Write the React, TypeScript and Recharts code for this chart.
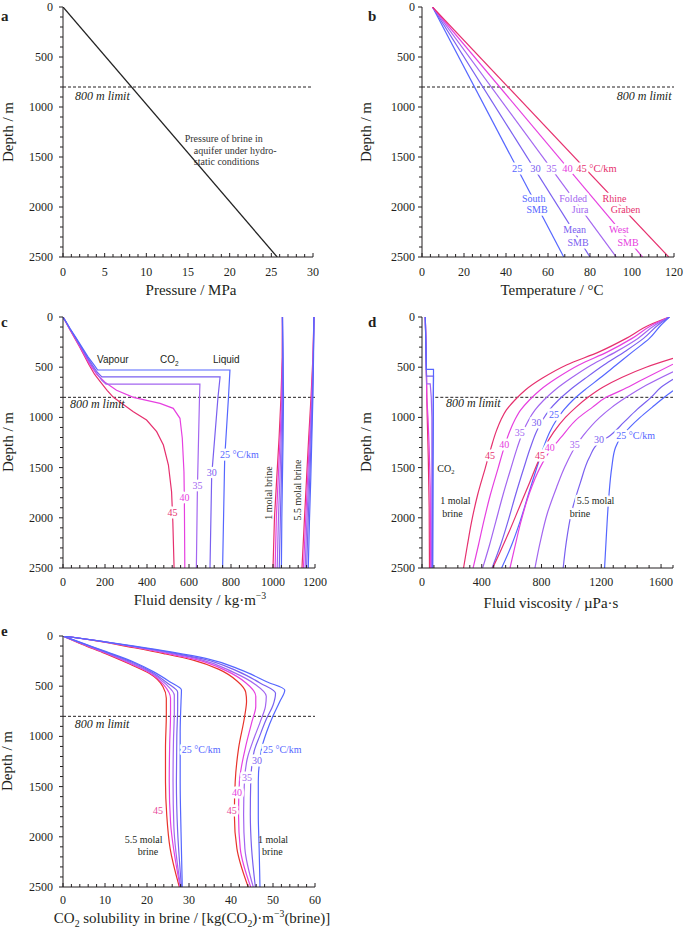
import React from "react";
import { LineChart, Line, XAxis, YAxis, ReferenceLine, ReferenceDot } from "recharts";

const SERIF = "'Liberation Serif', 'Times New Roman', Times, serif";
const SANS = "'Liberation Sans', Arial, Helvetica, sans-serif";
const INK = "#231f20";

// gradient colours, 25 -> 45 °C/km
const GRAD = ["#5566ff", "#7a60f0", "#a366f0", "#e640e0", "#e6306e"];
const RED_E = "#e8332b";

// ---- ticks ----
const DEPTH_MAJOR = [0, 500, 1000, 1500, 2000, 2500];
const range = (a: number, b: number, s: number) => {
  const r: number[] = [];
  for (let v = a; v <= b + 1e-9; v += s) r.push(Math.round(v * 1000) / 1000);
  return r;
};
const DEPTH_MINOR = range(0, 2500, 100);

const PRESS_MAJOR = [0, 5, 10, 15, 20, 25, 30];
const TEMP_MAJOR = [0, 20, 40, 60, 80, 100, 120];
const DENS_MAJOR = [0, 200, 400, 600, 800, 1000, 1200];
const VISC_MAJOR = [0, 400, 800, 1200, 1600];
const SOL_MAJOR = [0, 10, 20, 30, 40, 50, 60];

// ---- a: hydrostatic pressure (MPa, depth m) ----
const pressureBrine = [[0, 0], [25.7, 2500]];

// ---- b: temperature profiles (°C) ----
const surfaceTemp = 5;
const tempAt2500 = [67.5, 80, 92.5, 105, 117.5];

// ---- c: fluid density (kg/m3) ----
const co2Density25 = [[0, 0], [15, 50], [35, 120], [60, 200], [90, 300], [120, 400], [145, 470], [165, 528], [795, 528], [788, 800], [770, 1404], [760, 2500]];
const co2Density30 = [[0, 0], [15, 50], [34, 120], [58, 200], [87, 300], [115, 400], [140, 480], [163, 550], [185, 597], [748, 597], [738, 800], [708, 1580], [700, 2500]];
const co2Density35 = [[0, 0], [14, 50], [33, 120], [57, 200], [85, 300], [112, 400], [135, 480], [160, 560], [185, 630], [205, 668], [652, 668], [650, 800], [640, 1713], [635, 2500]];
const co2Density40 = [[0, 0], [14, 50], [32, 120], [55, 200], [82, 300], [108, 400], [130, 480], [160, 570], [200, 650], [255, 730], [335, 800], [462, 860], [525, 910], [557, 1009], [568, 1208], [576, 1541], [578, 1829], [580, 2500]];
const co2Density45 = [[0, 0], [13, 50], [31, 120], [53, 200], [80, 300], [105, 400], [125, 480], [150, 570], [180, 650], [210, 730], [240, 800], [335, 943], [398, 1026], [446, 1142], [478, 1275], [502, 1474], [517, 1740], [523, 2040], [529, 2500]];
const brine1Density = [
  [[1045, 0], [1048, 400], [1050, 800], [1048, 1200], [1045, 1600], [1042, 2000], [1040, 2500]],
  [[1045, 0], [1047, 400], [1047, 800], [1044, 1200], [1040, 1600], [1035, 2000], [1030, 2500]],
  [[1045, 0], [1046, 400], [1044, 800], [1039, 1200], [1033, 1600], [1026, 2000], [1020, 2500]],
  [[1045, 0], [1045, 400], [1041, 800], [1034, 1200], [1025, 1600], [1016, 2000], [1010, 2500]],
  [[1045, 0], [1044, 400], [1038, 800], [1029, 1200], [1018, 1600], [1007, 2000], [1000, 2500]],
];
const brine55Density = [
  [[1195, 0], [1193, 400], [1190, 800], [1185, 1200], [1180, 1600], [1174, 2000], [1168, 2500]],
  [[1195, 0], [1192, 400], [1188, 800], [1182, 1200], [1175, 1600], [1168, 2000], [1160, 2500]],
  [[1195, 0], [1192, 400], [1186, 800], [1178, 1200], [1170, 1600], [1162, 2000], [1153, 2500]],
  [[1195, 0], [1191, 400], [1184, 800], [1174, 1200], [1165, 1600], [1156, 2000], [1145, 2500]],
  [[1195, 0], [1190, 400], [1181, 800], [1170, 1200], [1160, 1600], [1150, 2000], [1138, 2500]],
];

// ---- d: fluid viscosity (µPa·s) ----
const co2Visc = [
  [[22, 0], [26, 300], [29, 521], [77, 521], [76, 900], [74, 1500], [72, 2500]],
  [[22, 0], [26, 300], [30, 588], [77, 588], [75, 900], [72, 1500], [70, 2500]],
  [[22, 0], [27, 300], [31, 667], [55, 667], [62, 800], [66, 1000], [66, 1500], [64, 2500]],
  [[22, 0], [28, 400], [32, 800], [40, 1000], [48, 1300], [55, 1700], [58, 2500]],
  [[22, 0], [28, 400], [32, 800], [35, 1000], [42, 1400], [48, 1900], [50, 2500]],
];
const viscDepths = [0, 80, 213, 345, 478, 611, 727, 827, 926, 1026, 1142, 1308, 1507, 1773, 2038, 2271, 2500];
const brine1Visc = [
  [1656, 1600, 1522, 1411, 1300, 1189, 1089, 1011, 949, 900, 856, 811, 767, 711, 656, 600, 533],
  [1656, 1580, 1483, 1356, 1217, 1093, 990, 914, 853, 807, 766, 724, 681, 626, 575, 526, 469],
  [1656, 1561, 1445, 1300, 1134, 996, 890, 816, 757, 714, 676, 636, 595, 542, 494, 452, 406],
  [1656, 1541, 1406, 1245, 1050, 900, 791, 719, 661, 621, 586, 548, 509, 457, 413, 378, 342],
  [1656, 1522, 1367, 1189, 967, 804, 692, 622, 565, 528, 496, 461, 423, 372, 332, 304, 278],
];
const brine55Visc = [
  [[1680, 735], [1622, 800], [1540, 900], [1460, 1000], [1390, 1100], [1330, 1200], [1295, 1300], [1270, 1500], [1250, 1800], [1235, 2150], [1222, 2500]],
  [[1680, 620], [1600, 700], [1533, 800], [1440, 920], [1350, 1050], [1260, 1180], [1184, 1252], [1120, 1400], [1060, 1650], [1000, 1950], [965, 2250], [945, 2500]],
  [[1680, 545], [1500, 680], [1367, 800], [1270, 900], [1190, 1000], [1080, 1180], [1022, 1302], [960, 1480], [900, 1700], [840, 1950], [790, 2250], [756, 2500]],
  [[1680, 470], [1480, 620], [1350, 720], [1233, 800], [1140, 900], [1050, 1000], [930, 1200], [855, 1335], [790, 1500], [720, 1750], [660, 2050], [620, 2300], [589, 2500]],
  [[1680, 412], [1500, 500], [1340, 600], [1210, 700], [1111, 800], [1030, 900], [960, 1000], [880, 1150], [820, 1300], [775, 1450], [720, 1650], [650, 1900], [580, 2150], [520, 2350], [473, 2500]],
];

// ---- e: CO2 solubility (kg/m3 brine) ----
const sol55 = [
  [[0, 0], [4.8, 73], [10.3, 156], [16.7, 256], [21.5, 355], [25.4, 455], [28.2, 538], [28.1, 654], [27.9, 953], [27.9, 1451], [28.1, 1949], [28.4, 2500]],
  [[0, 0], [4.8, 76], [10.2, 160], [16.5, 262], [21.2, 360], [24.9, 470], [27.3, 560], [27.3, 700], [27.1, 1000], [27.0, 1450], [27.3, 1950], [28.2, 2500]],
  [[0, 0], [4.7, 79], [10.1, 165], [16.3, 270], [21.0, 365], [24.5, 480], [26.5, 590], [26.5, 750], [26.3, 1050], [26.2, 1450], [26.4, 1900], [28.0, 2500]],
  [[0, 0], [4.7, 81], [10.1, 169], [16.1, 276], [20.7, 368], [24.1, 492], [25.6, 620], [25.6, 780], [25.4, 1080], [25.3, 1450], [25.6, 1850], [27.9, 2500]],
  [[0, 0], [4.6, 83], [10.0, 173], [16.0, 282], [20.5, 372], [23.8, 505], [24.6, 621], [24.6, 787], [24.4, 1119], [24.4, 1451], [24.7, 1783], [25.5, 2115], [27.7, 2500]],
];
const sol1 = [
  [[0, 0], [8, 45], [17, 100], [26, 160], [34, 222], [42.5, 340], [48.5, 455], [52.8, 538], [51.6, 654], [50.1, 787], [48.5, 953], [47.3, 1119], [46.5, 1451], [46.5, 1783], [46.7, 2115], [46.9, 2500]],
  [[0, 0], [8, 46], [16.8, 102], [25.5, 163], [33.3, 228], [41.5, 350], [47, 470], [50.6, 570], [50, 690], [48.5, 820], [46.8, 1000], [45.5, 1150], [44.7, 1450], [44.6, 1783], [44.9, 2115], [45.8, 2500]],
  [[0, 0], [8, 46], [16.6, 104], [25, 167], [32.6, 232], [40.5, 360], [45.7, 480], [48.4, 600], [48.2, 700], [47, 850], [45.2, 1050], [44, 1200], [43.2, 1450], [43, 1783], [43.3, 2115], [45.3, 2500]],
  [[0, 0], [8, 47], [16.3, 107], [24.5, 171], [31.8, 236], [38.8, 345], [43.5, 465], [45.9, 600], [45.9, 700], [45, 850], [43.5, 1100], [42.5, 1300], [42, 1450], [41.8, 1783], [42.2, 2115], [44.7, 2500]],
  [[0, 0], [8, 48], [16, 110], [24, 175], [31, 240], [37, 330], [41.5, 450], [43.5, 560], [43.7, 650], [43.3, 787], [41.8, 1119], [41, 1451], [40.8, 1783], [41.4, 2115], [44.1, 2500]],
];

const pts = (arr: number[][]) => arr.map(([x, d]) => ({ x, d }));
const zipDepth = (xs: number[], ds: number[]) => xs.map((x, i) => [x, ds[i]]);

// ---- text helpers ----
function rich(t: string, fs: number) {
  const parts = t.split(/(_\{[^}]*\}|\^\{[^}]*\})/).filter((s) => s !== "");
  let shift = 0;
  return parts.map((s, i) => {
    let target = 0;
    let txt = s;
    let size: number | undefined;
    if (s.startsWith("_{")) { target = fs * 0.28; txt = s.slice(2, -1); size = fs * 0.65; }
    else if (s.startsWith("^{")) { target = -fs * 0.38; txt = s.slice(2, -1); size = fs * 0.65; }
    const dy = target - shift;
    shift = target;
    return <tspan key={i} dy={dy || undefined} fontSize={size}>{txt}</tspan>;
  });
}

type Note = { x: number; d: number; t: string; c?: string; fs?: number; a?: "start" | "middle" | "end"; it?: boolean; sans?: boolean; halo?: boolean; rot?: number };

function notes(list: Note[]) {
  return list.map((n, i) => (
    <ReferenceDot
      key={"note" + i}
      x={n.x}
      y={n.d}
      r={0}
      ifOverflow="visible"
      shape={(p: any) => {
        const fs = n.fs ?? 10;
        return (
          <text
            x={p.cx}
            y={p.cy}
            fontSize={fs}
            fontFamily={n.sans ? SANS : SERIF}
            fontStyle={n.it ? "italic" : undefined}
            fill={n.c ?? INK}
            textAnchor={n.a ?? "start"}
            transform={n.rot ? `rotate(${n.rot} ${p.cx} ${p.cy})` : undefined}
            stroke={n.halo ? "#fff" : undefined}
            strokeWidth={n.halo ? 5 : undefined}
            strokeLinejoin="round"
            paintOrder="stroke"
          >
            {rich(n.t, fs)}
          </text>
        );
      }}
    />
  ));
}

// ---- axes ----
// left/top/right ticks point outward, bottom ticks point into the plot (as in the original)
type Side = "left" | "right" | "top" | "bottom";
function axisTick(side: Side, majors: number[], gap: number) {
  return (props: any) => {
    const { x, y, payload } = props;
    const v = payload.value as number;
    const major = majors.includes(v);
    const h = major ? 4 : 3;
    let ln;
    if (side === "left") ln = <line x1={x - h} x2={x} y1={y} y2={y} />;
    else if (side === "right") ln = <line x1={x} x2={x + h} y1={y} y2={y} />;
    else if (side === "top") ln = <line x1={x} x2={x} y1={y - h} y2={y} />;
    else ln = <line x1={x} x2={x} y1={y - h} y2={y} />;
    return (
      <g>
        <g stroke={INK} strokeWidth={1}>{ln}</g>
        {major && side === "left" && (
          <text x={x - gap} y={y + 4} textAnchor="end" fontSize={12} fontFamily={SERIF} fill={INK}>{v}</text>
        )}
        {major && side === "bottom" && (
          <text x={x} y={y + gap} textAnchor="middle" fontSize={12} fontFamily={SERIF} fill={INK}>{v}</text>
        )}
      </g>
    );
  };
}

type Frame = { xDomain: [number, number]; xMajor: number[]; xStep: number; xGap: number; yGap: number; yWidth: number; xHeight: number };

function axes(f: Frame) {
  const xTicks = range(f.xDomain[0], f.xDomain[1], f.xStep);
  const line = { stroke: INK, strokeWidth: 1 };
  return [
    <XAxis key="xb" dataKey="x" type="number" domain={f.xDomain} allowDataOverflow ticks={xTicks} interval={0} tickSize={0} tickMargin={0} tickLine={false} axisLine={line} height={f.xHeight} tick={axisTick("bottom", f.xMajor, f.xGap)} />,
    <XAxis key="xt" xAxisId="top" orientation="top" dataKey="x" type="number" domain={f.xDomain} allowDataOverflow ticks={xTicks} interval={0} tickSize={0} tickMargin={0} tickLine={false} axisLine={line} height={0} tick={axisTick("top", f.xMajor, 0)} />,
    <YAxis key="yl" type="number" reversed domain={[0, 2500]} allowDataOverflow ticks={DEPTH_MINOR} interval={0} tickSize={0} tickMargin={0} tickLine={false} axisLine={line} width={f.yWidth} tick={axisTick("left", DEPTH_MAJOR, f.yGap)} />,
    <YAxis key="yr" yAxisId="right" orientation="right" type="number" reversed domain={[0, 2500]} allowDataOverflow ticks={DEPTH_MINOR} interval={0} tickSize={0} tickMargin={0} tickLine={false} axisLine={line} width={0} tick={axisTick("right", DEPTH_MAJOR, 0)} />,
  ];
}

function curve(key: string, data: number[][], color: string, type: "linear" | "monotoneY" = "monotoneY", w = 1.2) {
  return (
    <Line key={key} data={pts(data)} dataKey="d" type={type} stroke={color} strokeWidth={w} dot={false} activeDot={false} isAnimationActive={false} />
  );
}

const limitLine = (from?: number, to?: number) =>
  from !== undefined && to !== undefined ? (
    <ReferenceLine key="lim" segment={[{ x: from, y: 800 }, { x: to, y: 800 }]} stroke={INK} strokeWidth={1} strokeDasharray="3 2" />
  ) : (
    <ReferenceLine key="lim" y={800} stroke={INK} strokeWidth={1} strokeDasharray="3 2" />
  );

type Box = { left: number; top: number; w: number; h: number; m: { top: number; right: number; bottom: number; left: number } };

function Panel({ box, children }: { box: Box; children: React.ReactNode }) {
  return (
    <div style={{ position: "absolute", left: box.left, top: box.top }}>
      <LineChart width={box.w} height={box.h} margin={box.m}>
        {children}
      </LineChart>
    </div>
  );
}

// ---- labels ----
const notesA: Note[] = [
  { x: 1.45, d: 930, t: "800 m limit", it: true, fs: 12 },
  { x: 14.6, d: 1350, t: "Pressure of brine in", c: "#333" },
  { x: 15.7, d: 1465, t: "aquifer under hydro-", c: "#333" },
  { x: 15.7, d: 1580, t: "static conditions", c: "#333" },
];
const notesB: Note[] = [
  { x: 118.8, d: 930, t: "800 m limit", it: true, fs: 12, a: "end" },
  { x: 45.3, d: 1650, t: "25", c: GRAD[0], a: "middle", halo: true, fs: 10.5 },
  { x: 54.1, d: 1650, t: "30", c: GRAD[1], a: "middle", halo: true, fs: 10.5 },
  { x: 61.7, d: 1650, t: "35", c: GRAD[2], a: "middle", halo: true, fs: 10.5 },
  { x: 69.3, d: 1650, t: "40", c: GRAD[3], a: "middle", halo: true, fs: 10.5 },
  { x: 73.4, d: 1650, t: "45 °C/km", c: GRAD[4], halo: true, fs: 10.5 },
  { x: 53.2, d: 1950, t: "South", c: GRAD[0], a: "middle", halo: true },
  { x: 54.8, d: 2063, t: "SMB", c: GRAD[0], a: "middle", halo: true },
  { x: 72.0, d: 1950, t: "Folded", c: GRAD[2], a: "middle", halo: true },
  { x: 75.3, d: 2063, t: "Jura", c: GRAD[2], a: "middle", halo: true },
  { x: 91.7, d: 1950, t: "Rhine", c: GRAD[4], a: "middle", halo: true },
  { x: 96.9, d: 2063, t: "Graben", c: GRAD[4], a: "middle", halo: true },
  { x: 72.7, d: 2263, t: "Mean", c: GRAD[1], a: "middle", halo: true },
  { x: 74.3, d: 2390, t: "SMB", c: GRAD[1], a: "middle", halo: true },
  { x: 93.8, d: 2263, t: "West", c: GRAD[3], a: "middle", halo: true },
  { x: 98.1, d: 2390, t: "SMB", c: GRAD[3], a: "middle", halo: true },
];
const notesC: Note[] = [
  { x: 33, d: 906, t: "800 m limit", it: true, fs: 12 },
  { x: 162, d: 458, t: "Vapour", sans: true },
  { x: 462, d: 458, t: "CO_{2}", sans: true },
  { x: 714, d: 458, t: "Liquid", sans: true },
  { x: 748, d: 1404, t: "25 °C/km", c: GRAD[0], halo: true },
  { x: 708, d: 1580, t: "30", c: GRAD[1], a: "middle", halo: true },
  { x: 640, d: 1713, t: "35", c: GRAD[2], a: "middle", halo: true },
  { x: 578, d: 1829, t: "40", c: GRAD[3], a: "middle", halo: true },
  { x: 522, d: 1979, t: "45", c: GRAD[4], a: "middle", halo: true },
  { x: 995, d: 1753, t: "1 molal brine", rot: -90, a: "middle" },
  { x: 1133, d: 1723, t: "5.5 molal brine", rot: -90, a: "middle" },
];
const notesD: Note[] = [
  { x: 160, d: 896, t: "800 m limit", it: true, fs: 12 },
  { x: 102, d: 1540, t: "CO_{2}" },
  { x: 122, d: 1862, t: "1 molal" },
  { x: 135, d: 1989, t: "brine" },
  { x: 1035, d: 1862, t: "5.5 molal", halo: true },
  { x: 989, d: 1989, t: "brine", halo: true },
  { x: 884, d: 1003, t: "25", c: GRAD[0], a: "middle", halo: true },
  { x: 767, d: 1086, t: "30", c: GRAD[1], a: "middle", halo: true },
  { x: 655, d: 1185, t: "35", c: GRAD[2], a: "middle", halo: true },
  { x: 551, d: 1302, t: "40", c: GRAD[3], a: "middle", halo: true },
  { x: 455, d: 1418, t: "45", c: GRAD[4], a: "middle", halo: true },
  { x: 1300, d: 1218, t: "25 °C/km", c: GRAD[0], halo: true },
  { x: 1184, d: 1252, t: "30", c: GRAD[1], a: "middle", halo: true },
  { x: 1022, d: 1302, t: "35", c: GRAD[2], a: "middle", halo: true },
  { x: 855, d: 1335, t: "40", c: GRAD[3], a: "middle", halo: true },
  { x: 789, d: 1418, t: "45", c: GRAD[4], a: "middle", halo: true },
];
const notesE: Note[] = [
  { x: 2.8, d: 920, t: "800 m limit", it: true, fs: 12 },
  { x: 28.3, d: 1162, t: "25 °C/km", c: GRAD[0], halo: true },
  { x: 22.6, d: 1776, t: "45", c: "#e8489a", a: "middle", halo: true },
  { x: 14.7, d: 2058, t: "5.5 molal" },
  { x: 17.8, d: 2181, t: "brine" },
  { x: 46.4, d: 2058, t: "1 molal" },
  { x: 47.4, d: 2181, t: "brine" },
  { x: 47.6, d: 1162, t: "25 °C/km", c: GRAD[0], halo: true },
  { x: 46.2, d: 1278, t: "30", c: GRAD[1], a: "middle", halo: true },
  { x: 43.8, d: 1441, t: "35", c: GRAD[2], a: "middle", halo: true },
  { x: 41.4, d: 1590, t: "40", c: GRAD[3], a: "middle", halo: true },
  { x: 40.2, d: 1773, t: "45", c: "#e8489a", a: "middle", halo: true },
];

const order = [4, 3, 2, 1, 0];
const colE = [GRAD[0], GRAD[1], GRAD[2], GRAD[3], RED_E];

export default function App() {
  const frameLeft = { yWidth: 63, yGap: 10, xHeight: 45 };
  const frameRight = { yWidth: 82, yGap: 7, xHeight: 45 };
  return (
    <div style={{ position: "absolute", left: 0, top: 0, width: 685, height: 932, background: "#fff", overflow: "hidden", fontFamily: SERIF }}>
      {/* a */}
      <Panel box={{ left: 0, top: 0, w: 340, h: 305, m: { top: 7, right: 27, bottom: 3, left: 0 } }}>
        {axes({ ...frameLeft, xDomain: [0, 30], xMajor: PRESS_MAJOR, xStep: 1, xGap: 19 })}
        {limitLine()}
        {curve("p", pressureBrine, "#222", "linear", 1.3)}
        {notes(notesA)}
      </Panel>

      {/* b */}
      <Panel box={{ left: 340, top: 0, w: 345, h: 305, m: { top: 7, right: 11, bottom: 3, left: 0 } }}>
        {axes({ ...frameRight, xDomain: [0, 120], xMajor: TEMP_MAJOR, xStep: 4, xGap: 19 })}
        {limitLine()}
        {tempAt2500.map((t, i) => curve("t" + i, [[surfaceTemp, 0], [t, 2500]], GRAD[i], "linear"))}
        {notes(notesB)}
      </Panel>

      {/* c */}
      <Panel box={{ left: 0, top: 310, w: 340, h: 305, m: { top: 7, right: 25, bottom: 2, left: 0 } }}>
        {axes({ ...frameLeft, xDomain: [0, 1200], xMajor: DENS_MAJOR, xStep: 40, xGap: 18 })}
        {limitLine()}
        {order.map((i) => curve("b1" + i, brine1Density[i], GRAD[i], "linear"))}
        {order.map((i) => curve("b5" + i, brine55Density[i], GRAD[i], "linear"))}
        {curve("c45", co2Density45, GRAD[4], "linear")}
        {curve("c40", co2Density40, GRAD[3], "linear")}
        {curve("c35", co2Density35, GRAD[2], "linear")}
        {curve("c30", co2Density30, GRAD[1], "linear")}
        {curve("c25", co2Density25, GRAD[0], "linear")}
        {notes(notesC)}
      </Panel>

      {/* d */}
      <Panel box={{ left: 340, top: 310, w: 345, h: 305, m: { top: 7, right: 12, bottom: 2, left: 0 } }}>
        {axes({ ...frameRight, xDomain: [0, 1680], xMajor: VISC_MAJOR, xStep: 80, xGap: 18 })}
        {limitLine(89, 1680)}
        {order.map((i) => curve("v1" + i, zipDepth(brine1Visc[i], viscDepths), GRAD[i]))}
        {order.map((i) => curve("v5" + i, brine55Visc[i], GRAD[i]))}
        {order.map((i) => curve("vc" + i, co2Visc[i], GRAD[i], "linear"))}
        {notes(notesD)}
      </Panel>

      {/* e */}
      <Panel box={{ left: 0, top: 629, w: 340, h: 303, m: { top: 7, right: 25, bottom: 0, left: 0 } }}>
        {axes({ ...frameLeft, xDomain: [0, 60], xMajor: SOL_MAJOR, xStep: 2, xGap: 17 })}
        {limitLine()}
        {order.map((i) => curve("s5" + i, sol55[i], colE[i]))}
        {order.map((i) => curve("s1" + i, sol1[i], colE[i]))}
        {notes(notesE)}
      </Panel>

      {/* axis titles and panel letters */}
      <svg width={685} height={932} style={{ position: "absolute", left: 0, top: 0, pointerEvents: "none" }} fontFamily={SERIF} fill={INK}>
        <g fontWeight="bold" fontSize={15}>
          <text x={1} y={21}>a</text>
          <text x={368} y={21}>b</text>
          <text x={1} y={327}>c</text>
          <text x={368} y={327}>d</text>
          <text x={1} y={636}>e</text>
        </g>
        <g fontSize={15} textAnchor="middle">
          <text transform="translate(13 132) rotate(-90)">Depth / m</text>
          <text transform="translate(371 132) rotate(-90)">Depth / m</text>
          <text transform="translate(13 442) rotate(-90)">Depth / m</text>
          <text transform="translate(371 442) rotate(-90)">Depth / m</text>
          <text transform="translate(12 761) rotate(-90)">Depth / m</text>
          <text x={191} y={295}>Pressure / MPa</text>
          <text x={552} y={295}>Temperature / °C</text>
          <text x={200} y={605}>{rich("Fluid density / kg·m^{−3}", 15)}</text>
          <text x={551} y={608}>Fluid viscosity / µPa·s</text>
          <text x={192} y={923}>{rich("CO_{2} solubility in brine / [kg(CO_{2})·m^{−3}(brine)]", 15)}</text>
        </g>
      </svg>
    </div>
  );
}
